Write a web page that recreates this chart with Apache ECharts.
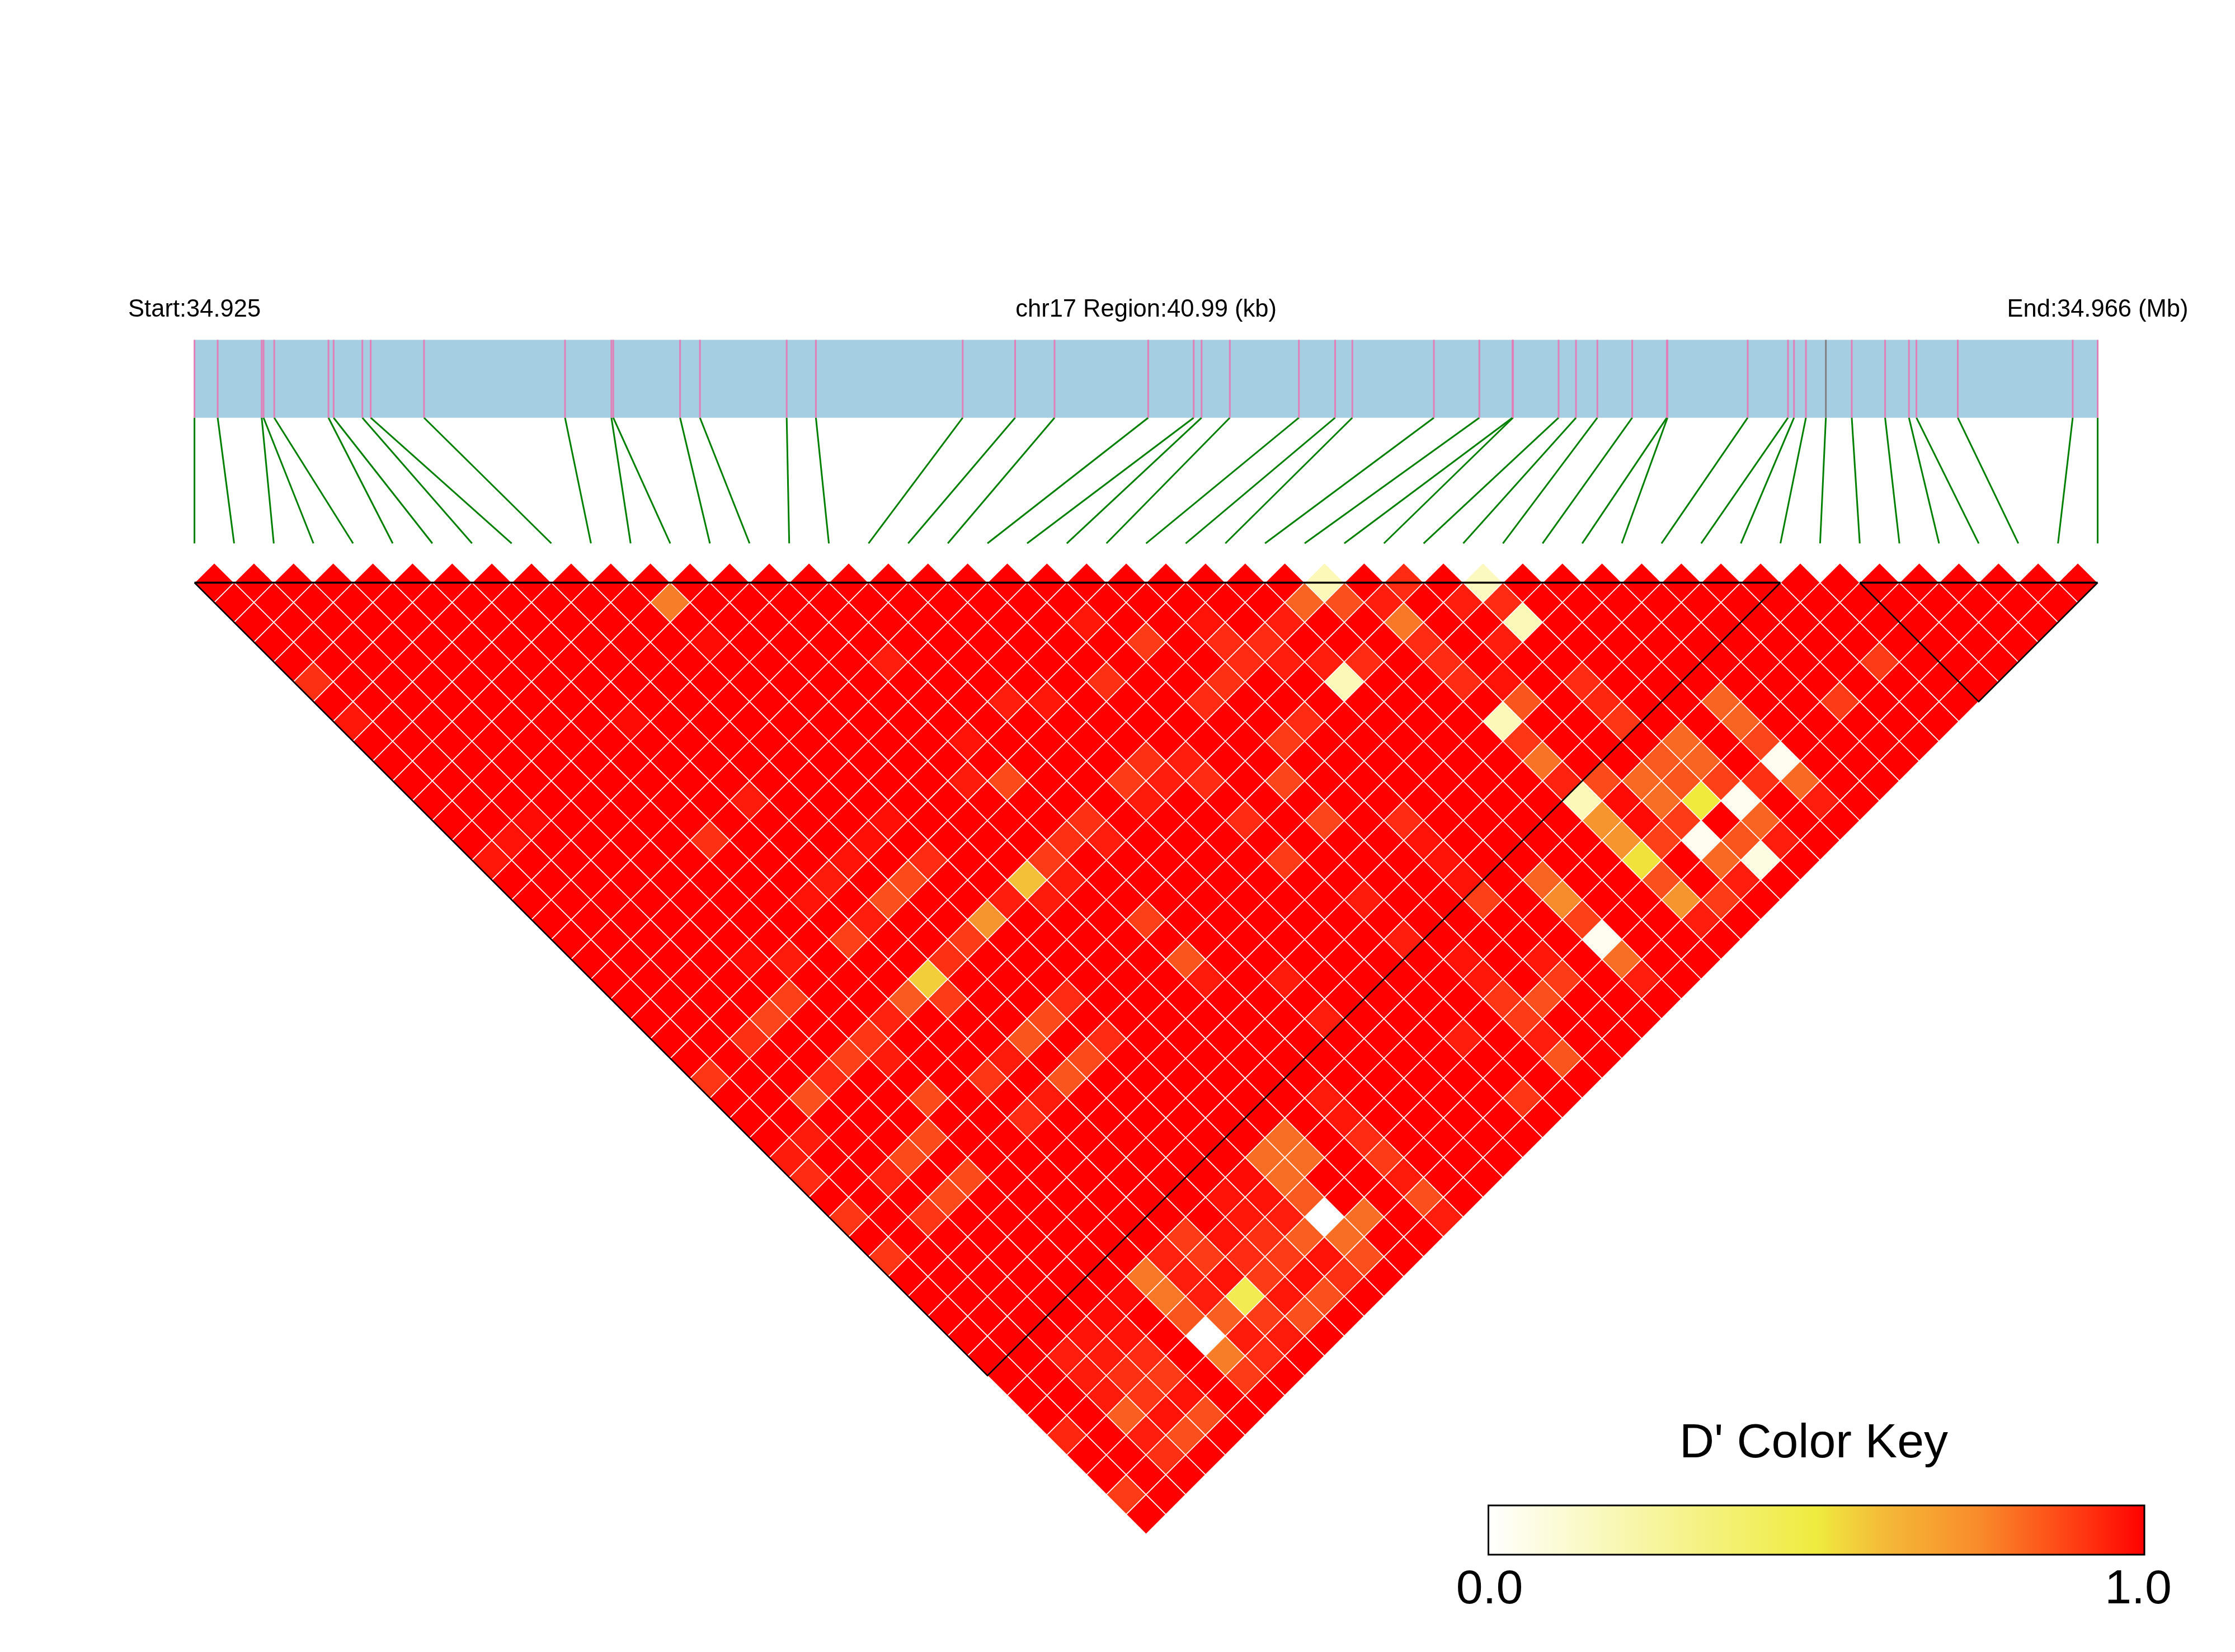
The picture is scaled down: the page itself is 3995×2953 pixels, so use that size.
<!DOCTYPE html>
<html>
<head>
<meta charset="utf-8">
<title>LD heatmap chr17</title>
<style>html,body{margin:0;padding:0;background:#fff}#chart{width:3995px;height:2953px}</style>
<script src="https://cdn.jsdelivr.net/npm/echarts@6/dist/echarts.min.js"></script>
</head>
<body>
<div id="chart"></div>
<script>
// --- Data ---
const regionKb = 40.99;
const regionLabels = ['Start:34.925', 'chr17 Region:40.99 (kb)', 'End:34.966 (Mb)'];
const keyTitle = "D' Color Key";
// SNP positions in kb from region start
const snpPositionsKb = [0,0.5,1.448,1.488,1.718,2.886,2.997,3.616,3.795,4.944,7.981,8.98,9.02,10.459,10.887,12.755,13.384,16.546,17.675,18.524,20.541,21.521,21.691,22.299,23.787,24.567,24.937,26.694,27.673,28.386,28.398,29.38,29.755,30.215,30.966,31.711,31.725,33.453,34.321,34.45,34.707,35.136,35.694,36.412,36.926,37.087,37.978,40.453,40.99];
const greySnps = [41];
// Haplotype blocks as first and last SNP index
const blocks = [[0,40],[42,48]];
// SNP pairs whose D' is below 1.0: [i, j, D']; every other pair reads as full red (1.0)
const pairsNear = [[28,29,.18],[30,31,.89],[32,33,.16],
[11,13,.73],[27,29,.78],[28,30,.82],[29,31,.92],[31,33,.92],[32,34,.89],
[21,24,.94],[24,27,.95],[26,29,.92],[29,32,.74],[32,35,.18],
[11,15,.97],[22,26,.86],[24,28,.89],[25,29,.89],[29,33,.89],[31,35,.92],
[15,20,.92],[24,29,.89],[25,30,.92],[26,31,.92],[27,32,.89],[29,34,.89],[40,45,.86],
[0,6,.88],[20,26,.88],[23,29,.88],[26,32,.18],[29,35,.89],[30,36,.95],[32,38,.89],
[17,24,.92],[18,25,.94],[22,29,.89],[30,37,.81],[32,39,.9],[35,42,.78],[38,45,.86],
[0,8,.94],[7,15,.97],[24,32,.89],[29,37,.18],[32,40,.87],[35,43,.78],
[15,24,.95],[23,32,.86],[29,38,.87],[33,42,.77],[35,44,.84],
[19,29,.88],[20,30,.92],[29,39,.75],[32,42,.8],[33,43,.78],[35,45,.04]];
const pairsMid = [[14,25,.93],[15,26,.83],[18,29,.86],[19,30,.92],[20,31,.89],[22,33,.84],[29,40,.91],[30,41,.83],[31,42,.77],[32,43,.81],[33,44,.85],[34,45,.88],[35,46,.77],
[8,20,.93],[18,30,.93],[29,41,.18],[30,42,.97],[31,43,.76],[32,44,.5],[33,45,.04],[35,47,.92],
[2,15,.97],[11,24,.96],[16,29,.88],[20,33,.89],[22,35,.84],[24,37,.89],[29,42,.68],[30,43,.97],[31,44,.86],[33,46,.78],
[1,15,.95],[6,20,.88],[10,24,.96],[15,29,.88],[16,30,.92],[24,38,.95],[29,43,.68],[30,44,.85],[31,45,.04],[32,46,.81],[33,47,.92],
[0,15,.94],[9,24,.95],[11,26,.89],[14,29,.86],[20,35,.86],[24,39,.95],[29,44,.52],[31,46,.77],[32,47,.08],
[8,24,.93],[10,26,.83],[13,29,.59],[14,30,.93],[24,40,.95],[26,42,.78],[29,45,.82],[31,47,.92],
[7,24,.95],[9,26,.82],[12,29,.92],[13,30,.93],[21,38,.93],[24,41,.85],[26,43,.7],[29,46,.68],[30,47,.86],
[8,26,.92],[11,29,.68],[15,33,.85],[26,44,.85],[29,47,.92],
[7,26,.85],[10,29,.86],[21,40,.92],[26,45,.04]];
const pairsFar = [[4,24,.97],[5,25,.93],[9,29,.88],[15,35,.81],[22,42,.95],[24,44,.94],[26,46,.76],
[8,29,.56],[15,36,.93],[17,38,.93],[22,43,.94],[24,45,.86],[26,47,.92],
[4,26,.85],[7,29,.8],[8,30,.86],[11,33,.89],[22,44,.87],[23,45,.82],
[3,26,.84],[6,29,.91],[10,33,.83],[17,40,.92],[22,45,.86],
[2,26,.88],[5,29,.87],[9,33,.81],[11,35,.89],[20,44,.92],[22,46,.92],
[4,29,.85],[5,30,.93],[8,33,.93],[10,35,.83],[22,47,.81],
[0,26,.87],[3,29,.89],[7,33,.87],[9,35,.81],
[2,29,.82],[5,32,.83],[8,35,.93],[15,42,.93],[20,47,.87],
[7,35,.89],[15,43,.94],
[1,30,.93],[4,33,.83],[13,42,.76],[15,44,.89],
[0,30,.93],[3,33,.83],[12,42,.76],[13,43,.76],[15,45,.86],
[0,31,.89],[2,33,.91],[4,35,.83],[11,42,.97],[12,43,.76],[15,46,.93],
[3,35,.83],[10,42,.95],[11,43,.95],[12,44,.8],[15,47,.82],
[0,33,.87],[2,35,.87],[10,43,.94],[11,44,.92],[12,45,0],[13,46,.76],[15,48,.92],
[8,42,.86],[9,43,.95],[10,44,.88],[11,45,.79],[12,46,.76],
[0,35,.87],[7,42,.91],[8,43,.86],[9,44,.89],[10,45,.86],[11,46,.95],[12,47,.82],
[6,42,.74],[7,43,.92],[8,44,.95],[9,45,.86],[10,46,.96],[11,47,.88],
[5,42,.97],[6,43,.74],[7,44,.92],[8,45,.44],[9,46,.94],[10,47,.82],
[4,42,.97],[6,44,.81],[7,45,.79],[8,46,.86],[9,47,.82],
[3,42,.95],[4,43,.95],[6,45,0],[7,46,.93],[8,47,.93],
[2,42,.92],[3,43,.93],[4,44,.89],[6,46,.73],[7,47,.89],
[2,43,.93],[3,44,.88],[4,45,.86],[6,47,.86],
[2,44,.93],[3,45,.87],[4,46,.95],
[2,45,.79],[3,46,.95],[4,47,.82],
[0,44,.9],[2,46,.92],[3,47,.82],
[2,47,.88],
[0,47,.86]];
// Colours for D' = 0.0, 0.1, ... 1.0
const cellColors = ['#ffffff','#fdfbd8','#faf7b0','#f7f388','#f3ee60','#f0ea3c','#f4bb38','#f78c2c','#fa5a20','#ff2610','#ff0000'];
const keyStops = [[0,'#ffffff'],[0.5,'#efeb3f'],[0.6,'#f4bb38'],[0.75,'#f98a2a'],[0.9,'#ff3a12'],[1,'#ff0000']];

// --- Build the pair table ---
const reduced = new Map();
[...pairsNear, ...pairsMid, ...pairsFar].forEach(p => reduced.set(p[0] + '-' + p[1], p[2]));
const cells = [];
const nSnp = snpPositionsKb.length;
for (let i = 0; i < nSnp; i++) {
  for (let j = i + 1; j < nSnp; j++) {
    const key = i + '-' + j;
    cells.push([i, j, reduced.has(key) ? reduced.get(key) : 1]);
  }
}

const chart = echarts.init(document.getElementById('chart'), null, {renderer: 'canvas'});
const FONT = '"Liberation Sans", Arial, sans-serif';
const plotLeft = 347.6, plotWidth = 3401.9;

function cellItem(params, api) {
  const i = api.value(0), j = api.value(1);
  const c = (i + j) / 2, d = (j - i - 1) / 2;
  const pts = [[c, d - 0.5], [c + 0.5, d], [c, d + 0.5], [c - 0.5, d]].map(p => api.coord(p));
  return {
    type: 'polygon',
    shape: {points: pts},
    style: {fill: api.visual('color'), stroke: '#ffffff', lineWidth: 1.6}
  };
}
function blockItem(params, api) {
  const a = api.value(0), b = api.value(1);
  const p0 = api.coord([a, 0]), p1 = api.coord([b, 0]), p2 = api.coord([(a + b) / 2, (b - a) / 2]);
  return {
    type: 'group',
    children: [
      {type: 'polyline', shape: {points: [p0, p2, p1]}, style: {fill: 'none', stroke: '#000', lineWidth: 2.6}},
      {type: 'line', shape: {x1: p0[0], y1: p0[1], x2: p1[0], y2: p1[1]}, style: {stroke: '#000', lineWidth: 3.6}}
    ]
  };
}
function bandItem(params, api) {
  const a = api.coord([api.value(0), 1]), b = api.coord([api.value(1), 0]);
  return {type: 'rect', shape: {x: a[0], y: a[1], width: b[0] - a[0], height: b[1] - a[1]}, style: {fill: '#a6cee3'}};
}
function snpTickItem(params, api) {
  const a = api.coord([api.value(0), 1]), b = api.coord([api.value(0), 0]);
  const grey = greySnps.indexOf(params.dataIndex) >= 0;
  return {type: 'line', shape: {x1: a[0], y1: a[1], x2: b[0], y2: b[1]}, style: {stroke: grey ? '#808080' : '#e07fb8', lineWidth: 3}};
}
function connectorItem(params, api) {
  const a = api.coord([api.value(0), 0]);
  const b = api.coord([params.dataIndex * regionKb / (nSnp - 1), 1]);
  return {type: 'line', shape: {x1: a[0], y1: a[1], x2: b[0], y2: b[1]}, style: {stroke: '#008000', lineWidth: 3}};
}
function keyItem(params, api) {
  const a = api.coord([api.value(0), 1]), b = api.coord([api.value(1), 0]);
  return {
    type: 'rect',
    shape: {x: a[0], y: a[1], width: b[0] - a[0], height: b[1] - a[1]},
    style: {
      fill: new echarts.graphic.LinearGradient(0, 0, 1, 0, keyStops.map(s => ({offset: s[0], color: s[1]}))),
      stroke: '#000', lineWidth: 3
    }
  };
}
const hiddenY = i => ({type: 'value', gridIndex: i, min: 0, max: 1, show: false});
const option = {
  animation: false,
  backgroundColor: '#ffffff',
  title: {
    text: keyTitle, left: 3237, top: 2533, textAlign: 'center',
    textStyle: {fontFamily: FONT, fontSize: 86, fontWeight: 'normal', color: '#000'}
  },
  grid: [
    {left: plotLeft, width: plotWidth, top: 1041.5, height: 1701},
    {left: plotLeft, width: plotWidth, top: 607.5, height: 139.2},
    {left: plotLeft, width: plotWidth, top: 746.7, height: 224.6},
    {left: 2660.5, width: 1172.5, top: 2691, height: 88}
  ],
  xAxis: [
    {type: 'value', gridIndex: 0, min: 0, max: nSnp - 1, show: false},
    {type: 'value', gridIndex: 1, position: 'top', min: 0, max: regionKb, interval: regionKb / 2,
     axisLine: {show: false}, axisTick: {show: false}, splitLine: {show: false},
     axisLabel: {show: true, showMinLabel: true, showMaxLabel: true, margin: 32, hideOverlap: false, fontFamily: FONT, fontSize: 43.5, color: '#000',
       formatter: (v, idx) => regionLabels[idx]}},
    {type: 'value', gridIndex: 2, min: 0, max: regionKb, show: false},
    {type: 'value', gridIndex: 3, min: 0, max: 1, interval: 1,
     axisLine: {show: false}, axisTick: {show: false}, splitLine: {show: false},
     axisLabel: {show: true, showMinLabel: true, showMaxLabel: true, margin: 20, fontFamily: FONT, fontSize: 86, color: '#000',
       formatter: v => (v === 0 ? '{lo|' : '{hi|') + v.toFixed(1) + '}',
       rich: {
         lo: {fontFamily: FONT, fontSize: 86, color: '#000', padding: [0, 4, 0, 8]},
         hi: {fontFamily: FONT, fontSize: 86, color: '#000', padding: [0, 22, 0, 0]}
       }}}
  ],
  yAxis: [
    {type: 'value', gridIndex: 0, min: 0, max: 24, inverse: true, show: false},
    hiddenY(1), {type: 'value', gridIndex: 2, min: 0, max: 1, inverse: true, show: false}, hiddenY(3)
  ],
  visualMap: {show: false, type: 'continuous', seriesIndex: 0, dimension: 2, min: 0, max: 1, inRange: {color: cellColors}},
  series: [
    {type: 'custom', xAxisIndex: 0, yAxisIndex: 0, coordinateSystem: 'cartesian2d', clip: false, renderItem: cellItem, data: cells, encode: {x: 0, y: 1}, silent: true},
    {type: 'custom', xAxisIndex: 0, yAxisIndex: 0, coordinateSystem: 'cartesian2d', clip: false, renderItem: blockItem, data: blocks, encode: {x: [0, 1]}, silent: true, z: 5},
    {type: 'custom', xAxisIndex: 1, yAxisIndex: 1, coordinateSystem: 'cartesian2d', clip: false, renderItem: bandItem, data: [[0, regionKb]], encode: {x: [0, 1]}, silent: true},
    {type: 'custom', xAxisIndex: 1, yAxisIndex: 1, coordinateSystem: 'cartesian2d', clip: false, renderItem: snpTickItem, data: snpPositionsKb.map(p => [p]), encode: {x: 0}, silent: true, z: 3},
    {type: 'custom', xAxisIndex: 2, yAxisIndex: 2, coordinateSystem: 'cartesian2d', clip: false, renderItem: connectorItem, data: snpPositionsKb.map(p => [p]), encode: {x: 0}, silent: true},
    {type: 'custom', xAxisIndex: 3, yAxisIndex: 3, coordinateSystem: 'cartesian2d', clip: false, renderItem: keyItem, data: [[0, 1]], encode: {x: [0, 1]}, silent: true}
  ]
};
chart.setOption(option);
</script>
</body>
</html>
